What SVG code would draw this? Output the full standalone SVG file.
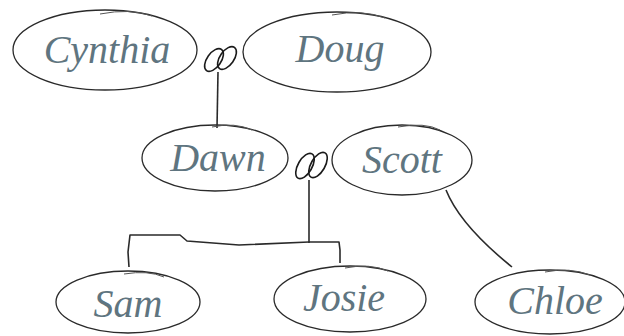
<svg xmlns="http://www.w3.org/2000/svg" width="624" height="336" viewBox="0 0 624 336">
<style>
.node ellipse{fill:none;stroke:#2a2a2a;stroke-width:1.3}
.node path{fill:none;stroke:#555;stroke-width:1}
.lbl{font-family:"Liberation Serif","DejaVu Serif",serif;font-style:italic;font-size:40px;fill:#5f7580;text-anchor:middle}
.ring{fill:none;stroke:#1a1a1a;stroke-width:1.6}
#connectors path{fill:none;stroke:#2a2a2a;stroke-width:1.6;stroke-linejoin:round}
</style>
<rect width="624" height="336" fill="#fff"/>
<g id="connectors">
<path d="M218 72 L217 128"/>
<path d="M309 180 L309 243"/>
<path d="M129 267 L128 252 L130 235 L180 235 L187 241 L239 245 L309 242 L339 242 L340 250 L340 263"/>
<path d="M446 190 Q460 225 512 267"/>
<g id="rings1"><ellipse class="ring" cx="214" cy="60" rx="7" ry="13" transform="rotate(35 214 60)"/><ellipse class="ring" cx="227" cy="58" rx="7" ry="13" transform="rotate(35 227 58)"/></g>
<g id="rings2"><ellipse class="ring" cx="305" cy="166" rx="7" ry="14" transform="rotate(30 305 166)"/><ellipse class="ring" cx="318" cy="165" rx="7" ry="14" transform="rotate(30 318 165)"/></g>
</g>
<g id="cynthia" class="node"><ellipse cx="105" cy="50" rx="92" ry="40"/><path d="M100 14 Q130 8 152 16"/><text class="lbl" x="107" y="63">Cynthia</text></g>
<g id="doug" class="node"><ellipse cx="337" cy="52" rx="94" ry="40"/><path d="M332 15 Q362 9 385 18"/><text class="lbl" x="340" y="62">Doug</text></g>
<g id="dawn" class="node"><ellipse cx="215" cy="158" rx="73" ry="33"/><path d="M212 127 Q235 122 252 130"/><text class="lbl" x="218" y="171">Dawn</text></g>
<g id="scott" class="node"><ellipse cx="402" cy="160" rx="70" ry="35"/><path d="M398 127 Q425 122 440 130"/><text class="lbl" x="402" y="173">Scott</text></g>
<g id="sam" class="node"><ellipse cx="128" cy="302" rx="72" ry="31"/><path d="M124 274 Q148 270 164 277"/><text class="lbl" x="128" y="317">Sam</text></g>
<g id="josie" class="node"><ellipse cx="350" cy="299" rx="76" ry="33"/><path d="M345 268 Q370 263 388 271"/><text class="lbl" x="344" y="311">Josie</text></g>
<g id="chloe" class="node"><ellipse cx="550" cy="302" rx="75" ry="32"/><path d="M545 272 Q570 267 590 275"/><text class="lbl" x="555" y="314">Chloe</text></g>
</svg>
